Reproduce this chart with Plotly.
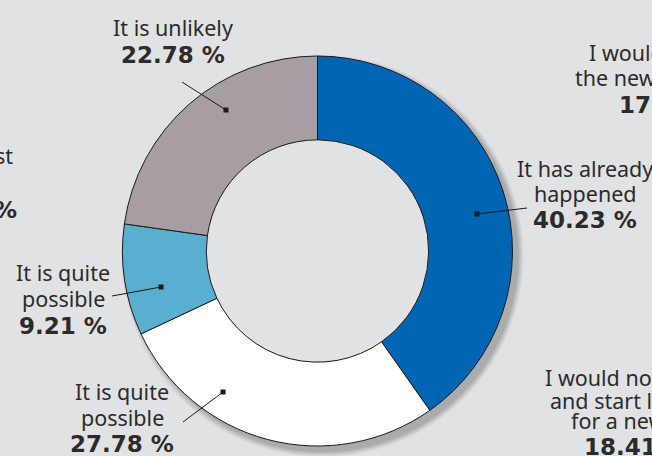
import plotly.graph_objects as go

# Survey answers, clockwise from 12 o'clock
answers = ["It has already happened", "It is quite possible (a)", "It is quite possible (b)", "It is unlikely"]
shares = [40.23, 27.78, 9.21, 22.78]
slice_colors = ["#0066b3", "#ffffff", "#5aaed0", "#a79ea4"]

W, H = 652, 456
BG = "#e1e2e4"
INK = "#2b2b2b"
FONT = "Noto Sans, sans-serif"
FONT_BOLD = "DejaVu Sans, sans-serif"

# donut geometry in pixels
CX, CY, R = 317.5, 251.0, 195.0
HOLE = 0.57


def px(x):
    return x / W


def py(y):
    return 1 - y / H


fig = go.Figure()

fig.add_trace(go.Pie(
    labels=answers,
    values=shares,
    sort=False,
    direction="clockwise",
    rotation=0,
    hole=HOLE,
    marker=dict(colors=slice_colors, line=dict(color="#1a1a1a", width=1)),
    textinfo="none",
    hoverinfo="skip",
    showlegend=False,
    domain=dict(x=[px(CX - R), px(CX + R)], y=[py(CY + R), py(CY - R)]),
))

shapes = []
# soft drop shadow toward the lower right
for i, a in enumerate([0.03, 0.035, 0.04, 0.045, 0.05, 0.06]):
    grow = 6 - i
    off = 5
    shapes.append(dict(
        type="circle", xref="paper", yref="paper", layer="below",
        x0=px(CX - R - grow + off), x1=px(CX + R + grow + off),
        y0=py(CY + R + grow + off), y1=py(CY - R - grow + off),
        fillcolor=f"rgba(0,0,0,{a})", line=dict(width=0),
    ))
# keep the hole the same colour as the page
r_in = R * HOLE
shapes.append(dict(
    type="circle", xref="paper", yref="paper", layer="below",
    x0=px(CX - r_in), x1=px(CX + r_in), y0=py(CY + r_in), y1=py(CY - r_in),
    fillcolor=BG, line=dict(width=0),
))

# leader lines: (label end, dot inside slice)
leaders = [
    ((182, 82), (226, 110)),
    ((527, 208), (477, 214)),
    ((112, 296), (161, 287)),
    ((183, 422), (223, 392)),
]
for (x0, y0), (x1, y1) in leaders:
    shapes.append(dict(type="line", xref="paper", yref="paper",
                       x0=px(x0), y0=py(y0), x1=px(x1), y1=py(y1),
                       line=dict(color="#1a1a1a", width=1)))
    d = 2.5
    shapes.append(dict(type="rect", xref="paper", yref="paper",
                       x0=px(x1 - d), x1=px(x1 + d), y0=py(y1 + d), y1=py(y1 - d),
                       fillcolor="#1a1a1a", line=dict(width=0)))

annotations = []


def txt(s, x, y, bold=False, anchor="center"):
    annotations.append(dict(
        text=f"<b>{s}</b>" if bold else s,
        x=px(x), y=py(y), xref="paper", yref="paper",
        xanchor=anchor, yanchor="middle", showarrow=False,
        font=dict(family=FONT_BOLD if bold else FONT, size=23 if bold else 21.5, color=INK),
    ))


# labels for the four slices
txt("It is unlikely", 173, 27)
txt(f"{shares[3]:.2f} %", 173, 55, bold=True)

txt("It has already", 585, 168)
txt("happened", 585, 193)
txt(f"{shares[0]:.2f} %", 585, 220, bold=True)

txt("It is quite", 63, 272)
txt("possible", 63, 298)
txt(f"{shares[2]:.2f} %", 63, 326, bold=True)

txt("It is quite", 122, 391)
txt("possible", 122, 417)
txt(f"{shares[1]:.2f} %", 122, 444, bold=True)

# neighbouring panels running past the edges
txt("I would", 587, 52, anchor="left")
txt("the new", 573, 78, anchor="left")
txt("17.", 617, 105, bold=True, anchor="left")

txt("I would not", 543, 377, anchor="left")
txt("and start le", 548, 400, anchor="left")
txt("for a new", 569, 420, anchor="left")
txt("18.41", 582, 447, bold=True, anchor="left")

txt("st", 15, 155, anchor="right")
txt("%", 19, 210, bold=True, anchor="right")

fig.update_layout(
    width=W, height=H,
    margin=dict(l=0, r=0, t=0, b=0),
    paper_bgcolor=BG, plot_bgcolor=BG,
    shapes=shapes, annotations=annotations,
)

fig.write_html("out.html")
